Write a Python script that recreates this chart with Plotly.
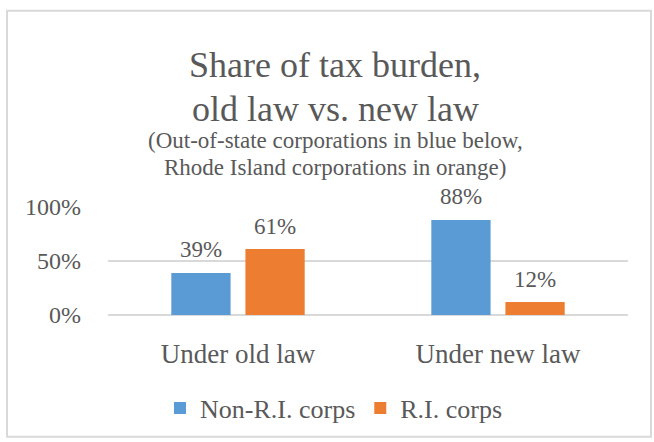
import plotly.graph_objects as go

categories = ["Under old law", "Under new law"]
non_ri = [0.39, 0.88]
ri = [0.61, 0.12]
series_names = ["Non-R.I. corps", "R.I. corps"]
y_ticks = [0, 0.5, 1.0]
y_tick_labels = ["0%", "50%", "100%"]

FONT = "Liberation Serif"
TXT = "#595959"
W, H = 654, 442
L, R, T, B = 108, 26, 207, 126
pw, ph = W - L - R, H - T - B

def px(x):
    return (x - L) / pw

def py(y):
    return (H - B - y) / ph

colors = ["#5B9BD5", "#ED7D31"]
fig = go.Figure()
for name, vals, col in [(series_names[0], non_ri, colors[0]), (series_names[1], ri, colors[1])]:
    fig.add_trace(go.Bar(x=categories, y=vals, name=name, marker_color=col, marker_line_width=0))

# data labels above bars
annots = []
for si, vals in enumerate([non_ri, ri]):
    shift = -37 if si == 0 else 37
    for c, v in zip(categories, vals):
        annots.append(dict(x=c, y=v, xref="x", yref="y", text=f"{v:.0%}", showarrow=False,
                           xshift=shift, yshift=23, yanchor="middle",
                           font=dict(family=FONT, size=23, color=TXT)))

title_lines = [("Share of tax burden,", 64, 36), ("old law vs. new law", 108, 36),
               ("(Out-of-state corporations in blue below,", 140, 23),
               ("Rhode Island corporations in orange)", 167, 23)]
for txt, yy, sz in title_lines:
    annots.append(dict(text=txt, x=px(335), y=py(yy), xref="paper", yref="paper", showarrow=False,
                       font=dict(family=FONT, size=sz, color=TXT), xanchor="center", yanchor="middle"))

fig.update_layout(
    width=W, height=H,
    margin=dict(l=L, r=R, t=T, b=B),
    paper_bgcolor="white", plot_bgcolor="white",
    barmode="group", bargap=0.43, bargroupgap=0.2,
    font=dict(family=FONT, color=TXT),
    showlegend=True,
    legend=dict(orientation="h", x=px(334), xanchor="center", y=py(408), yanchor="middle",
                font=dict(family=FONT, size=26, color=TXT), itemwidth=30,
                traceorder="normal"),
    xaxis=dict(showgrid=False, showline=False, ticks="", tickfont=dict(family=FONT, size=27, color=TXT),
               ticklabelstandoff=20),
    yaxis=dict(range=[0, 1], tickvals=y_ticks, ticktext=y_tick_labels, showgrid=True,
               gridcolor="#D9D9D9", gridwidth=2, zeroline=True, zerolinecolor="#D9D9D9", zerolinewidth=2,
               showline=False, ticks="", tickfont=dict(family=FONT, size=24, color=TXT),
               ticklabelstandoff=26),
    annotations=annots,
    shapes=[dict(type="rect", xref="paper", yref="paper", x0=px(7), x1=px(651), y0=py(439), y1=py(9),
                 line=dict(color="#D9D9D9", width=2), fillcolor="rgba(0,0,0,0)", layer="below")],
)

fig.write_html("out.html")
